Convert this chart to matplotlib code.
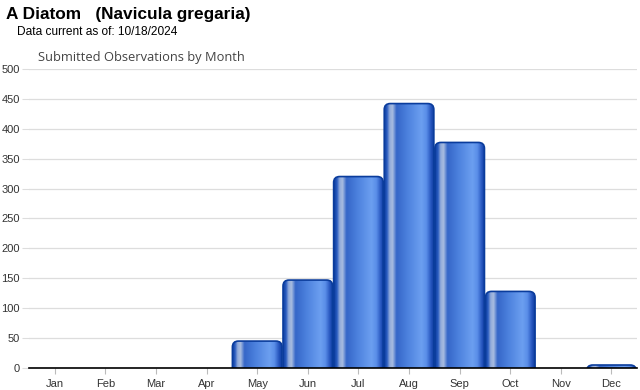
import matplotlib
matplotlib.use("Agg")
import matplotlib.pyplot as plt
import numpy as np
from matplotlib.patches import FancyBboxPatch
from matplotlib.colors import LinearSegmentedColormap

months = ["Jan", "Feb", "Mar", "Apr", "May", "Jun", "Jul", "Aug", "Sep", "Oct", "Nov", "Dec"]
counts = [0, 0, 0, 0, 45, 147, 320, 442, 377, 128, 0, 5]
yticks = [0, 50, 100, 150, 200, 250, 300, 350, 400, 450, 500]

fig = plt.figure(figsize=(6.4, 3.9), dpi=100)
ax = fig.add_axes([0.046, 0.0564, 0.949, 0.767])

grad_cmap = LinearSegmentedColormap.from_list("bar", [
    (0.0, "#0d3c9e"), (0.06, "#2a5cc0"), (0.11, "#8fa9da"), (0.17, "#a9bde0"),
    (0.25, "#3566c8"), (0.45, "#4a7fdc"), (0.75, "#6c9ff0"), (0.85, "#5a8ee8"),
    (0.94, "#2756bf"), (1.0, "#0d3c9e")])
grad = np.linspace(0, 1, 256).reshape(1, -1)

ax.set_xlim(-0.5, len(months) - 0.5)
ax.set_ylim(0, 500)

width = 0.98
xpx = 0.949 * 640 / len(months)
ypx = 0.767 * 390 / 500
radius_px = 6.0
rx = radius_px / xpx
aspect = (radius_px / ypx) / rx

for i, v in enumerate(counts):
    if v <= 0:
        continue
    x0 = i - width / 2
    y0 = -20
    h = v - y0
    patch = FancyBboxPatch((x0, y0), width, h,
                           boxstyle=f"round,pad=0,rounding_size={rx}",
                           mutation_aspect=aspect,
                           facecolor="none", edgecolor="#0a3c9c", linewidth=1.2, zorder=3)
    ax.add_patch(patch)
    im = ax.imshow(grad, cmap=grad_cmap, aspect="auto",
                   extent=(x0, x0 + width, y0, v), zorder=2, interpolation="bilinear")
    im.set_clip_path(patch)

ax.set_xlim(-0.5, len(months) - 0.5)
ax.set_ylim(0, 500)

ax.set_yticks(yticks)
ax.set_yticklabels([str(t) for t in yticks], fontsize=8, color="#333333", family="Liberation Sans")
ax.set_xticks(range(len(months)))
ax.set_xticklabels(months, fontsize=8, color="#333333", family="Liberation Sans")
ax.yaxis.grid(True, color="#dddddd", linewidth=0.9)
ax.set_axisbelow(True)
ax.tick_params(axis="y", length=5, color="#dddddd", pad=2)
ax.tick_params(axis="x", length=4, color="#bbbbbb", pad=4)
for s in ["top", "right", "left"]:
    ax.spines[s].set_visible(False)
ax.spines["bottom"].set_color("#000000")
ax.spines["bottom"].set_linewidth(1.2)
ax.spines["bottom"].set_zorder(5)

fig.text(6 / 640, 1 - 15 / 390, "A Diatom   (Navicula gregaria)", fontsize=12.4, fontweight="bold",
         family="Liberation Sans", va="center", ha="left", color="#000000")
fig.text(17 / 640, 1 - 32 / 390, "Data current as of: 10/18/2024", fontsize=8.6,
         family="Liberation Sans", va="center", ha="left", color="#000000")
fig.text(38 / 640, 1 - 57 / 390, "Submitted Observations by Month", fontsize=9.3,
         family="Open Sans", va="center", ha="left", color="#444444")

fig.savefig("out.png", dpi=100)
